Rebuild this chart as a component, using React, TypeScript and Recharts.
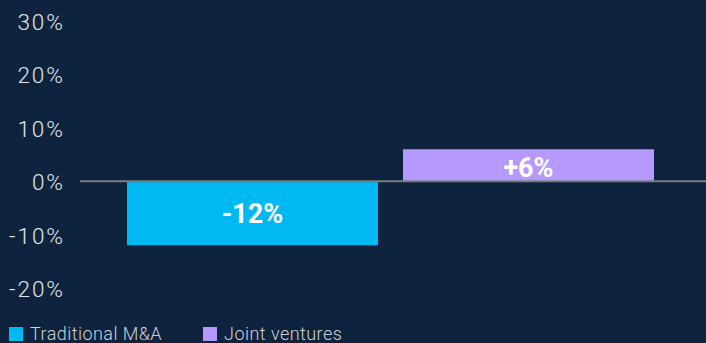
import React from "react";
import { BarChart, Bar, XAxis, YAxis, ReferenceLine, LabelList } from "recharts";

const categories = ["Change"];
const seriesNames = ["Traditional M&A", "Joint ventures"];
const traditionalValues = [-12];
const jointValues = [6];
const yTicks = [-20, -10, 0, 10, 20, 30];
const seriesColors = ["#00B8F2", "#B599FD"];

const data = categories.map((c, i) => ({
  name: c,
  trad: traditionalValues[i],
  joint: jointValues[i],
}));

const BG = "#0E233D";

const fmtLabel = (v: any) => (v > 0 ? `+${v}%` : `${v}%`);

const TickText = (props: any) => {
  const { x, y, payload } = props;
  return (
    <text
      x={x}
      y={y}
      dy={9}
      textAnchor="end"
      fill="#E4E7EB"
      fontSize={22.5}
      fontWeight={300}
      fontFamily="Roboto, sans-serif"
      letterSpacing={2}
    >
      {`${payload.value}%`}
    </text>
  );
};

export default function App() {
  return (
    <div style={{ position: "fixed", left: 0, top: 0, width: 706, height: 343, background: BG, overflow: "hidden" }}>
      <BarChart
        width={706}
        height={343}
        data={data}
        margin={{ top: 21, right: 5, bottom: 55, left: 0 }}
        barSize={251}
        barGap={25}
      >
        <XAxis dataKey="name" hide />
        <YAxis
          width={80}
          domain={[-20, 30]}
          ticks={yTicks}
          interval={0}
          axisLine={false}
          tickLine={false}
          tickSize={0}
          tickMargin={15}
          tick={<TickText />}
        />
        <Bar dataKey="trad" name={seriesNames[0]} fill={seriesColors[0]} isAnimationActive={false}>
          <LabelList
            dataKey="trad"
            position="center"
            formatter={fmtLabel}
            style={{ fill: "#FFFFFF", fontSize: 27, fontWeight: 700, fontFamily: "Roboto, sans-serif" }}
          />
        </Bar>
        <Bar dataKey="joint" name={seriesNames[1]} fill={seriesColors[1]} isAnimationActive={false}>
          <LabelList
            dataKey="joint"
            position="center"
            offset={0}
            dy={2}
            formatter={fmtLabel}
            style={{ fill: "#FFFFFF", fontSize: 27, fontWeight: 700, fontFamily: "Roboto, sans-serif" }}
          />
        </Bar>
        <ReferenceLine
          y={0}
          stroke="#7A7D80"
          strokeWidth={2}
          shape={(p: any) => (
            <line x1={p.x1} y1={p.y1} x2={p.x2 + 5} y2={p.y2} stroke="#7A7D80" strokeWidth={2} />
          )}
        />
      </BarChart>
      <div
        style={{
          position: "absolute",
          left: 9,
          top: 324,
          display: "flex",
          alignItems: "center",
          fontFamily: "Roboto, sans-serif",
          fontWeight: 300,
          fontSize: 18,
          letterSpacing: 0.45,
          color: "#CDD2D8",
          lineHeight: "20px",
        }}
      >
        {seriesNames.map((n, i) => (
          <div key={n} style={{ display: "flex", alignItems: "center", marginRight: i === 0 ? 41 : 0 }}>
            <span style={{ display: "inline-block", width: 14, height: 14, background: seriesColors[i], marginRight: 7 }} />
            <span>{n}</span>
          </div>
        ))}
      </div>
    </div>
  );
}
